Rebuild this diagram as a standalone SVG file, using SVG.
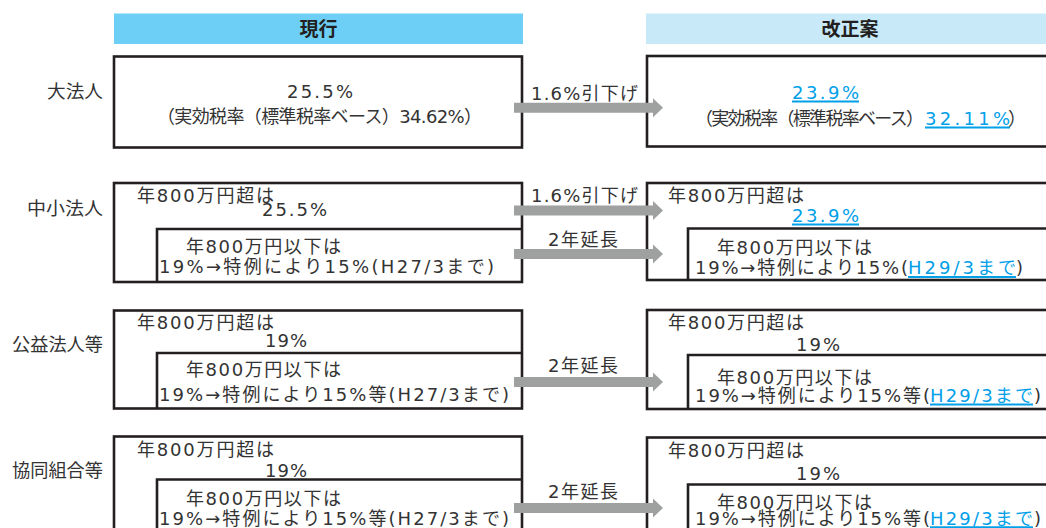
<svg xmlns="http://www.w3.org/2000/svg" xmlns:xlink="http://www.w3.org/1999/xlink" width="1046" height="528" viewBox="0 0 1046 528">
<style>
text{font-family:"DejaVu Sans","Noto Sans CJK JP",sans-serif;font-size:18px;fill:#333;}
.hd{font-family:"Noto Sans CJK JP",sans-serif;font-size:19px;font-weight:bold;fill:#231f20;text-anchor:middle;}
.lb{font-family:"Noto Sans CJK JP",sans-serif;font-size:18px;}
.bl{fill:#00a0e9;}
.box{fill:#fff;stroke:#231f20;stroke-width:2.6;}
.ln{fill:none;stroke:#231f20;stroke-width:2.6;}
.ul{stroke:#00a0e9;stroke-width:2;}
.arr{fill:#9fa0a0;}
</style>
<defs>
<path id="arr" d="M514,-5 H653 V-9.5 L663,0 L653,9.5 V5 H514 Z"/>
</defs>

<g id="header-current">
<rect x="114" y="13.5" width="409" height="30.5" fill="#6dcff6"/>
<text class="hd" x="318.5" y="36">現行</text>
</g>
<g id="header-revised">
<rect x="646" y="13.5" width="410" height="30.5" fill="#c7e9f8"/>
<text class="hd" x="850" y="36">改正案</text>
</g>

<g id="label-large"><text class="lb" x="47" y="98" textLength="56" lengthAdjust="spacingAndGlyphs">大法人</text></g>
<g id="label-small"><text class="lb" x="27" y="215" textLength="76" lengthAdjust="spacingAndGlyphs">中小法人</text></g>
<g id="label-public"><text class="lb" x="12" y="351" textLength="91" lengthAdjust="spacingAndGlyphs">公益法人等</text></g>
<g id="label-coop"><text class="lb" x="12" y="476.5" textLength="91" lengthAdjust="spacingAndGlyphs">協同組合等</text></g>

<g id="large-current">
<rect class="box" x="114" y="56.5" width="408" height="91"/>
<text x="287" y="98" textLength="66">25.5%</text>
<text x="157" y="123" textLength="325">（実効税率（標準税率ベース）34.62%）</text>
</g>
<g id="large-revised">
<rect class="box" x="647" y="56" width="420" height="90.5"/>
<text class="bl" x="792" y="99" textLength="67">23.9%</text>
<line class="ul" x1="792" y1="101.5" x2="859" y2="101.5"/>
<text x="695" y="125" textLength="229">（実効税率（標準税率ベース）</text>
<text class="bl" x="925" y="125" textLength="85">32.11%</text>
<line class="ul" x1="925" y1="127.5" x2="1010" y2="127.5"/>
<text x="1008" y="125">）</text>
</g>

<g id="small-current">
<rect class="box" x="114" y="183" width="408" height="99"/>
<polyline class="ln" points="157,282 157,229 522,229"/>
<text x="137" y="202" textLength="137">年800万円超は</text>
<text x="262" y="215.6" textLength="65">25.5%</text>
<text x="186" y="253" textLength="155">年800万円以下は</text>
<text x="159" y="273" textLength="335">19%→特例により15%(H27/3まで)</text>
</g>
<g id="small-revised">
<rect class="box" x="647" y="183" width="420" height="97"/>
<polyline class="ln" points="688,280 688,228.5 1060,228.5"/>
<text x="668" y="202" textLength="136">年800万円超は</text>
<text class="bl" x="792" y="222" textLength="67">23.9%</text>
<line class="ul" x1="792" y1="224.5" x2="859" y2="224.5"/>
<text x="717" y="254" textLength="155">年800万円以下は</text>
<text x="695" y="274" textLength="213">19%→特例により15%(</text>
<text class="bl" x="908" y="274" textLength="108">H29/3まで</text>
<line class="ul" x1="908" y1="277" x2="1016" y2="277"/>
<text x="1016" y="274" textLength="7">)</text>
</g>

<g id="public-current">
<rect class="box" x="114" y="310.5" width="408" height="98"/>
<polyline class="ln" points="157,408.5 157,353 522,353"/>
<text x="137" y="329" textLength="137">年800万円超は</text>
<text x="265" y="347" textLength="42">19%</text>
<text x="186" y="376" textLength="155">年800万円以下は</text>
<text x="159" y="401" textLength="350">19%→特例により15%等(H27/3まで)</text>
</g>
<g id="public-revised">
<rect class="box" x="647" y="310" width="420" height="99"/>
<polyline class="ln" points="688,409 688,355 1060,355"/>
<text x="668" y="329" textLength="136">年800万円超は</text>
<text x="796" y="350.6" textLength="44">19%</text>
<text x="717" y="384" textLength="155">年800万円以下は</text>
<text x="695" y="401.5" textLength="235">19%→特例により15%等(</text>
<text class="bl" x="930" y="401.5" textLength="103">H29/3まで</text>
<line class="ul" x1="930" y1="404.5" x2="1033" y2="404.5"/>
<text x="1034" y="401.5" textLength="7">)</text>
</g>

<g id="coop-current">
<rect class="box" x="114" y="436.5" width="408" height="100"/>
<polyline class="ln" points="157,540 157,479.5 522,479.5"/>
<text x="137" y="455.5" textLength="137">年800万円超は</text>
<text x="265" y="476.5" textLength="42">19%</text>
<text x="186" y="504.5" textLength="155">年800万円以下は</text>
<text x="159" y="525" textLength="350">19%→特例により15%等(H27/3まで)</text>
</g>
<g id="coop-revised">
<rect class="box" x="647" y="437.5" width="420" height="100"/>
<polyline class="ln" points="688,540 688,484.5 1060,484.5"/>
<text x="668" y="457" textLength="136">年800万円超は</text>
<text x="796" y="479.5" textLength="44">19%</text>
<text x="717" y="508.5" textLength="155">年800万円以下は</text>
<text x="695" y="525" textLength="235">19%→特例により15%等(</text>
<text class="bl" x="930" y="525" textLength="103">H29/3まで</text>
<line class="ul" x1="930" y1="527.2" x2="1033" y2="527.2"/>
<text x="1034" y="525" textLength="7">)</text>
</g>

<g id="connectors">
<use xlink:href="#arr" class="arr" transform="translate(0,107.7)"/>
<use xlink:href="#arr" class="arr" transform="translate(0,210.5)"/>
<use xlink:href="#arr" class="arr" transform="translate(0,254)"/>
<use xlink:href="#arr" class="arr" transform="translate(0,382)"/>
<use xlink:href="#arr" class="arr" transform="translate(0,508)"/>
<text x="531" y="100" textLength="107">1.6%引下げ</text>
<text x="531" y="202" textLength="107">1.6%引下げ</text>
<text x="548" y="246" textLength="70">2年延長</text>
<text x="548" y="372" textLength="70">2年延長</text>
<text x="548" y="498" textLength="70">2年延長</text>
</g>
</svg>
